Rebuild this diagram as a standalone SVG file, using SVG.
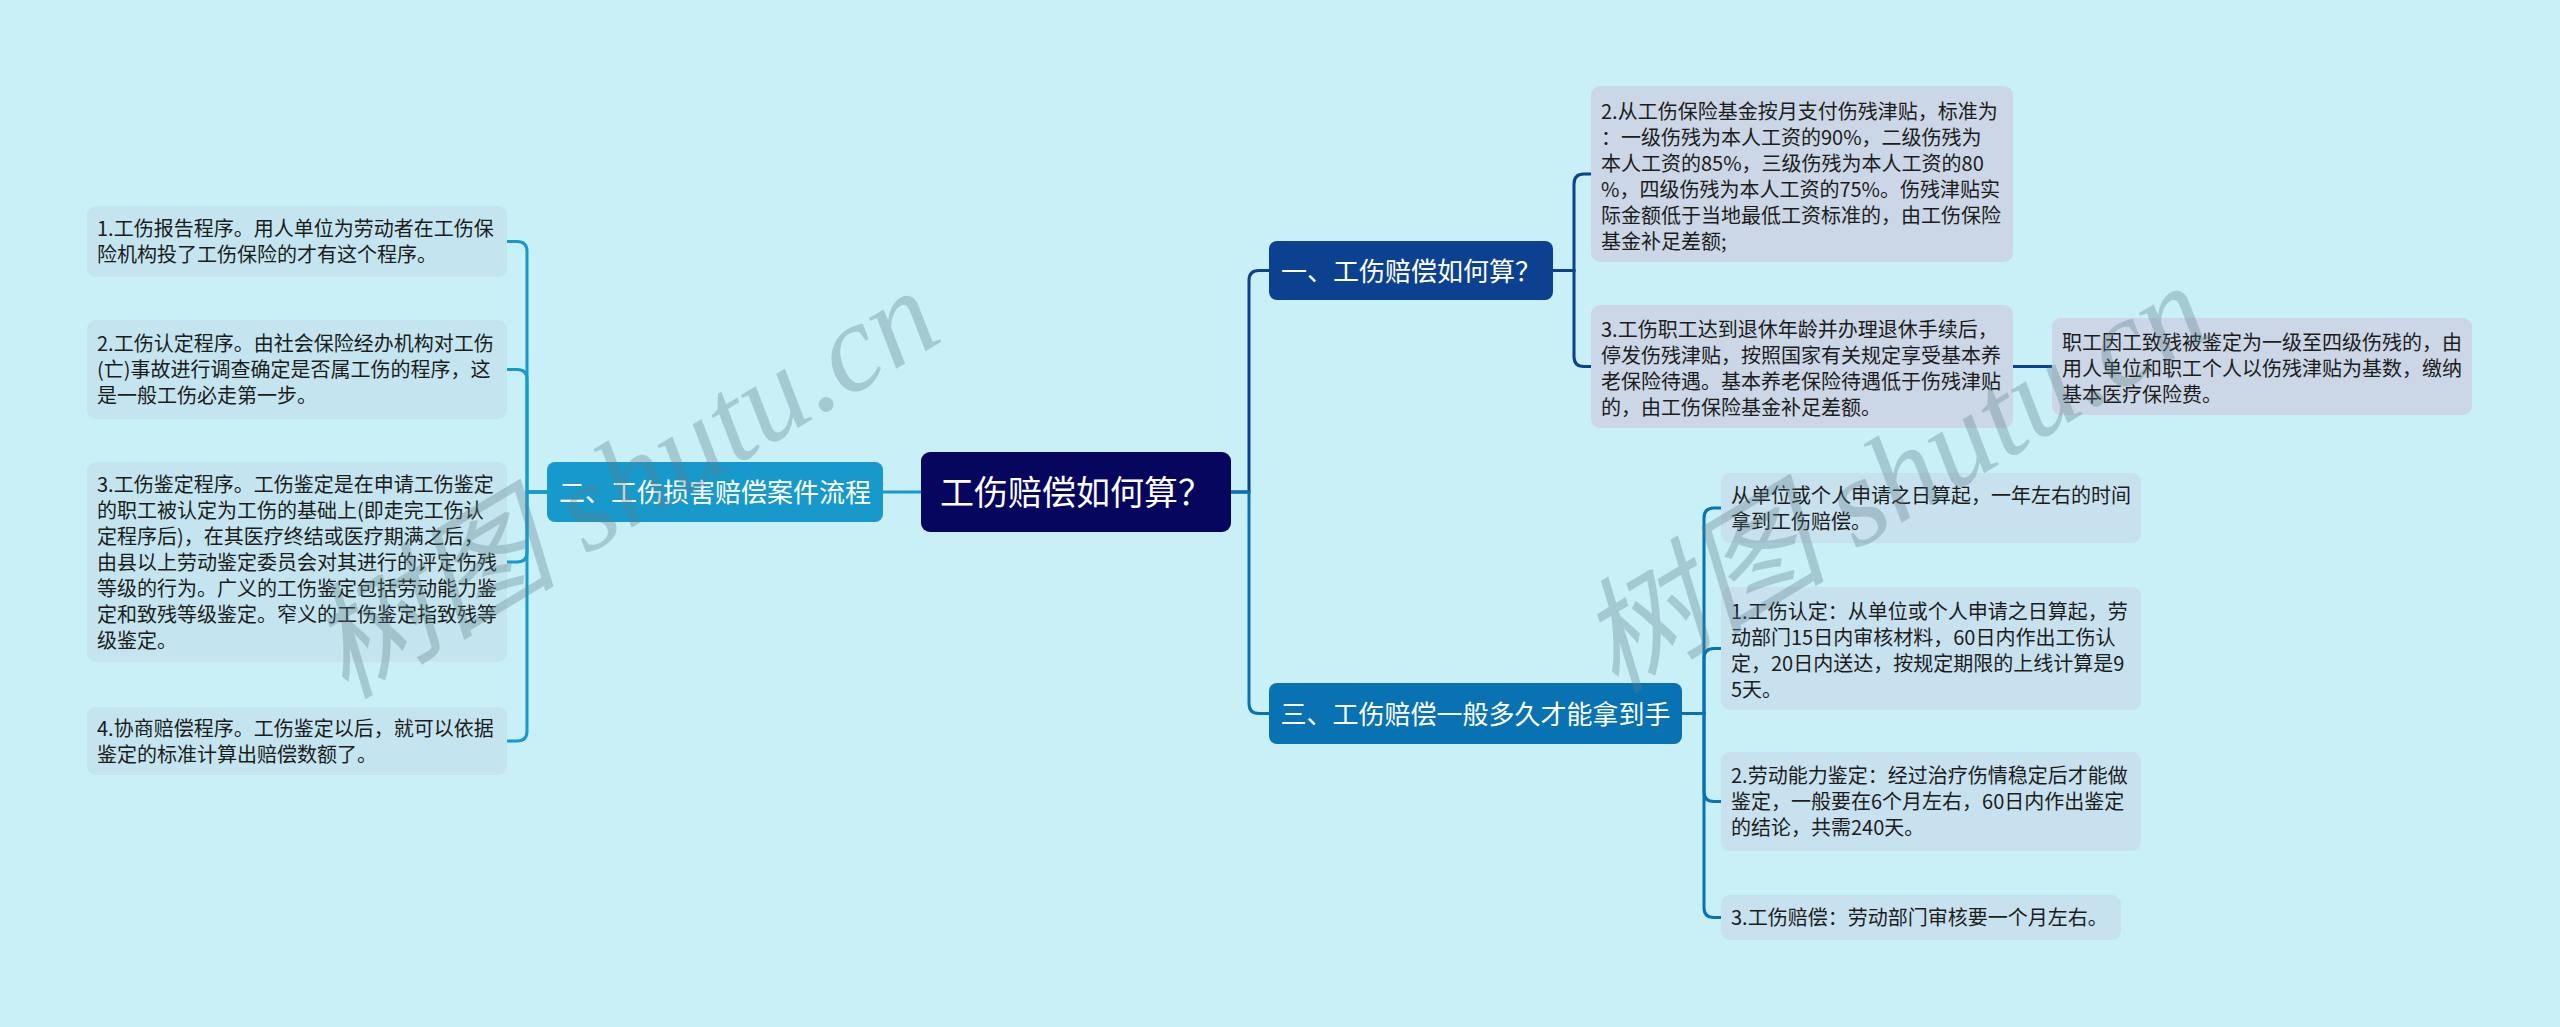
<svg xmlns="http://www.w3.org/2000/svg" width="2560" height="1027" viewBox="0 0 2560 1027">
<style>
.bg{fill:#c9eff7}
.tl{fill:#c4e5ef}
.tr{fill:#cbd6e6}
.tb{fill:#c7e1ee}
.t{font-family:"Noto Sans CJK SC","Microsoft YaHei",sans-serif;font-size:20px;fill:#1c1c1c}
.h{font-family:"Noto Sans CJK SC","Microsoft YaHei",sans-serif;font-size:26px;fill:#ffffff;text-anchor:middle}
.c{fill:none;stroke-width:3}
.wm{font-family:"Liberation Serif","Noto Sans CJK SC",serif;font-style:italic;font-size:125px;fill:#5b7f88;opacity:0.33}
</style>
<rect class="bg" x="0" y="0" width="2560" height="1027"/>

<g id="connectors">
  <g stroke="#1899cc" class="c">
    <path d="M921,492 H883"/>
    <path d="M547,492 H527 V251.5 Q527,241.5 517,241.5 H507"/>
    <path d="M547,492 H527 V379.5 Q527,369.5 517,369.5 H507"/>
    <path d="M547,492 H527 V552 Q527,562 517,562 H507"/>
    <path d="M547,492 H527 V731 Q527,741 517,741 H507"/>
  </g>
  <g stroke="#0c4190" class="c">
    <path d="M1231,492 H1249 V280.5 Q1249,270.5 1259,270.5 H1269"/>
    <path d="M1553,270.5 H1574 V184 Q1574,174 1584,174 H1591"/>
    <path d="M1553,270.5 H1574 V356.5 Q1574,366.5 1584,366.5 H1591"/>
    <path d="M2013,366.5 H2052"/>
  </g>
  <g stroke="#0872b3" class="c">
    <path d="M1231,492 H1249 V703.5 Q1249,713.5 1259,713.5 H1269"/>
    <path d="M1682,713.5 H1704 V518 Q1704,508 1714,508 H1721"/>
    <path d="M1682,713.5 H1704 V658.5 Q1704,648.5 1714,648.5 H1721"/>
    <path d="M1682,713.5 H1704 V791.5 Q1704,801.5 1714,801.5 H1721"/>
    <path d="M1682,713.5 H1704 V907.5 Q1704,917.5 1714,917.5 H1721"/>
  </g>
</g>

<g id="root">
  <rect x="921" y="452" width="310" height="80" rx="9" fill="#06065e"/>
  <text class="h" x="1076" y="505" style="font-size:34px">工伤赔偿如何算？</text>
</g>

<g id="n2">
  <rect x="547" y="462" width="336" height="60" rx="8" fill="#1899cc"/>
  <text class="h" x="715" y="502">二、工伤损害赔偿案件流程</text>
</g>
<g id="n1">
  <rect x="1269" y="241" width="284" height="59" rx="8" fill="#0c4190"/>
  <text class="h" x="1411" y="280.5">一、工伤赔偿如何算？</text>
</g>
<g id="n3">
  <rect x="1269" y="683" width="413" height="61" rx="8" fill="#0872b3"/>
  <text class="h" x="1475.5" y="723.5">三、工伤赔偿一般多久才能拿到手</text>
</g>

<g id="b1">
  <rect class="tl" x="87" y="206" width="420" height="71" rx="9"/>
  <text class="t"><tspan x="97" y="236">1.工伤报告程序。用人单位为劳动者在工伤保</tspan><tspan x="97" y="262">险机构投了工伤保险的才有这个程序。</tspan></text>
</g>
<g id="b2">
  <rect class="tl" x="87" y="320" width="420" height="99" rx="9"/>
  <text class="t"><tspan x="97" y="351">2.工伤认定程序。由社会保险经办机构对工伤</tspan><tspan x="97" y="377">(亡)事故进行调查确定是否属工伤的程序，这</tspan><tspan x="97" y="403">是一般工伤必走第一步。</tspan></text>
</g>
<g id="b3">
  <rect class="tl" x="87" y="462" width="420" height="200" rx="9"/>
  <text class="t"><tspan x="97" y="491.5">3.工伤鉴定程序。工伤鉴定是在申请工伤鉴定</tspan><tspan x="97" y="517.5">的职工被认定为工伤的基础上(即走完工伤认</tspan><tspan x="97" y="543.5">定程序后)，在其医疗终结或医疗期满之后，</tspan><tspan x="97" y="569.5">由县以上劳动鉴定委员会对其进行的评定伤残</tspan><tspan x="97" y="595.5">等级的行为。广义的工伤鉴定包括劳动能力鉴</tspan><tspan x="97" y="621.5">定和致残等级鉴定。窄义的工伤鉴定指致残等</tspan><tspan x="97" y="647.5">级鉴定。</tspan></text>
</g>
<g id="b4">
  <rect class="tl" x="87" y="707" width="420" height="68" rx="9"/>
  <text class="t"><tspan x="97" y="736">4.协商赔偿程序。工伤鉴定以后，就可以依据</tspan><tspan x="97" y="762">鉴定的标准计算出赔偿数额了。</tspan></text>
</g>

<g id="r1">
  <rect class="tr" x="1591" y="86" width="422" height="176" rx="9"/>
  <text class="t"><tspan x="1601" y="119">2.从工伤保险基金按月支付伤残津贴，标准为</tspan><tspan x="1601" y="145">：一级伤残为本人工资的90%，二级伤残为</tspan><tspan x="1601" y="171">本人工资的85%，三级伤残为本人工资的80</tspan><tspan x="1601" y="197">%，四级伤残为本人工资的75%。伤残津贴实</tspan><tspan x="1601" y="223">际金额低于当地最低工资标准的，由工伤保险</tspan><tspan x="1601" y="249">基金补足差额;</tspan></text>
</g>
<g id="r2">
  <rect class="tr" x="1591" y="305" width="422" height="123" rx="9"/>
  <text class="t"><tspan x="1601" y="337">3.工伤职工达到退休年龄并办理退休手续后，</tspan><tspan x="1601" y="363">停发伤残津贴，按照国家有关规定享受基本养</tspan><tspan x="1601" y="389">老保险待遇。基本养老保险待遇低于伤残津贴</tspan><tspan x="1601" y="415">的，由工伤保险基金补足差额。</tspan></text>
</g>
<g id="r3">
  <rect class="tr" x="2052" y="318" width="420" height="97" rx="9"/>
  <text class="t"><tspan x="2062" y="350">职工因工致残被鉴定为一级至四级伤残的，由</tspan><tspan x="2062" y="376">用人单位和职工个人以伤残津贴为基数，缴纳</tspan><tspan x="2062" y="402">基本医疗保险费。</tspan></text>
</g>

<g id="l1">
  <rect class="tb" x="1721" y="473" width="420" height="70" rx="9"/>
  <text class="t"><tspan x="1731" y="503">从单位或个人申请之日算起，一年左右的时间</tspan><tspan x="1731" y="529">拿到工伤赔偿。</tspan></text>
</g>
<g id="l2">
  <rect class="tb" x="1721" y="587" width="420" height="123" rx="9"/>
  <text class="t"><tspan x="1731" y="619">1.工伤认定：从单位或个人申请之日算起，劳</tspan><tspan x="1731" y="645">动部门15日内审核材料，60日内作出工伤认</tspan><tspan x="1731" y="671">定，20日内送达，按规定期限的上线计算是9</tspan><tspan x="1731" y="697">5天。</tspan></text>
</g>
<g id="l3">
  <rect class="tb" x="1721" y="752" width="420" height="99" rx="9"/>
  <text class="t"><tspan x="1731" y="783">2.劳动能力鉴定：经过治疗伤情稳定后才能做</tspan><tspan x="1731" y="809">鉴定，一般要在6个月左右，60日内作出鉴定</tspan><tspan x="1731" y="835">的结论，共需240天。</tspan></text>
</g>
<g id="l4">
  <rect class="tb" x="1721" y="895" width="400" height="45" rx="9"/>
  <text class="t"><tspan x="1731" y="925">3.工伤赔偿：劳动部门审核要一个月左右。</tspan></text>
</g>

<g id="watermark">
  <text class="wm" transform="translate(345,700) rotate(-31)">树图 shutu.cn</text>
  <text class="wm" transform="translate(1615,695) rotate(-31)">树图 shutu.cn</text>
</g>
</svg>
